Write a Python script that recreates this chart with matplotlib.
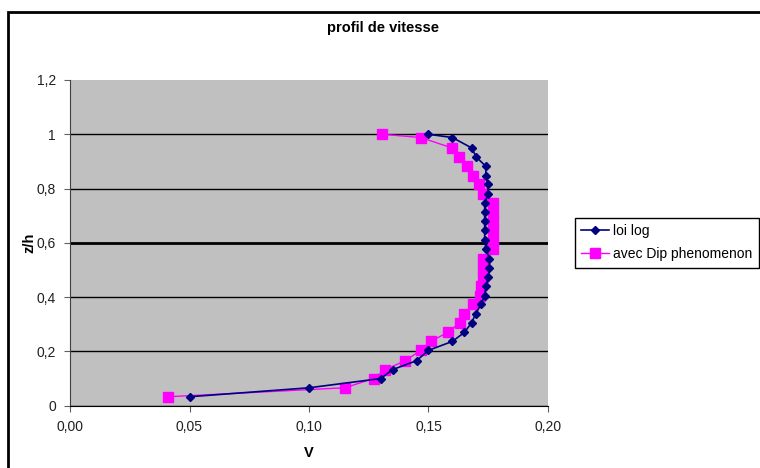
import matplotlib
matplotlib.use("Agg")
import matplotlib.pyplot as plt
from matplotlib.patches import Rectangle
from matplotlib.ticker import FuncFormatter

# relative height z/h of each measurement point
Z_H = [1.0, 0.988, 0.95, 0.916, 0.882, 0.848, 0.815, 0.781, 0.747, 0.714,
       0.68, 0.646, 0.612, 0.578, 0.542, 0.507, 0.473, 0.44, 0.405, 0.374,
       0.338, 0.305, 0.27, 0.237, 0.204, 0.166, 0.133, 0.1, 0.066, 0.033]

# velocity from the log law
V_LOG = [0.150, 0.160, 0.168, 0.170, 0.174, 0.174, 0.1748, 0.175, 0.1735, 0.1735,
         0.1735, 0.1735, 0.1735, 0.174, 0.1755, 0.1755, 0.175, 0.174, 0.1735, 0.172,
         0.1697, 0.168, 0.165, 0.160, 0.150, 0.145, 0.135, 0.130, 0.100, 0.050]

# velocity with the dip phenomenon
V_DIP = [0.1307, 0.1468, 0.1597, 0.1627, 0.166, 0.1685, 0.171, 0.173, 0.1769, 0.1769,
         0.1769, 0.1769, 0.1769, 0.1769, 0.173, 0.173, 0.173, 0.1718, 0.1716, 0.1688,
         0.165, 0.163, 0.158, 0.151, 0.1468, 0.1403, 0.132, 0.127, 0.115, 0.041]

X_TICKS = [0.0, 0.05, 0.10, 0.15, 0.20]
Y_TICKS = [0, 0.2, 0.4, 0.6, 0.8, 1.0, 1.2]

FONT = "Liberation Sans"


def comma_fmt(decimals):
    def f(val, pos):
        if decimals is None:
            s = ("%.1f" % val).rstrip("0").rstrip(".")
        else:
            s = "%.*f" % (decimals, val)
        return s.replace(".", ",")
    return FuncFormatter(f)


def main():
    plt.rcParams["font.family"] = [FONT, "DejaVu Sans"]
    fig = plt.figure(figsize=(7.6, 4.68), dpi=100)
    ax = fig.add_axes([70 / 760, 1 - 405.7 / 468, 478 / 760, 325.7 / 468])
    ax.set_facecolor("#C0C0C0")

    ax.plot(V_LOG, Z_H, color="#000080", lw=1.2, marker="D", markersize=4.5,
            label="loi log", zorder=3)
    ax.plot(V_DIP, Z_H, color="#FF00FF", lw=1.0, marker="s", markersize=6.5,
            label="avec Dip phenomenon", zorder=2)

    ax.set_xlim(0, 0.2)
    ax.set_ylim(0, 1.2)
    ax.set_xticks(X_TICKS)
    ax.set_yticks(Y_TICKS)
    ax.xaxis.set_major_formatter(comma_fmt(2))
    ax.yaxis.set_major_formatter(comma_fmt(None))
    ax.tick_params(axis="both", labelsize=10, length=4, color="#606060",
                   labelcolor="#202020", pad=6)

    # horizontal grid only, the 0,6 line drawn heavier
    ax.yaxis.grid(True, color="black", lw=1.0)
    for val, line in zip(Y_TICKS, ax.get_ygridlines()):
        if abs(val - 0.6) < 1e-9:
            line.set_linewidth(2.0)
        if abs(val - 1.2) < 1e-9:
            line.set_visible(False)
    ax.set_axisbelow(True)

    for side in ("top", "right"):
        ax.spines[side].set_visible(False)
    ax.spines["left"].set_color("#404040")
    ax.spines["bottom"].set_color("black")

    ax.set_xlabel("V", fontsize=10.5, fontweight="bold")
    ax.set_ylabel("z/h", fontsize=10.5, fontweight="bold")
    ax.xaxis.set_label_coords(0.5, -0.124)
    ax.yaxis.set_label_coords(-0.071, 0.5)
    fig.text(383 / 760, 1 - 28 / 468, "profil de vitesse", ha="center", va="center",
             fontsize=10.5, fontweight="bold")

    leg = fig.legend(loc="upper left", bbox_to_anchor=(575 / 760, 1 - 218 / 468),
                     fontsize=10, frameon=True, fancybox=False, framealpha=1,
                     edgecolor="black", borderpad=0.45, handlelength=2.0,
                     labelspacing=0.65, handletextpad=0.3, borderaxespad=0)
    leg.get_frame().set_linewidth(1.0)

    # outer chart border
    fig.patches.append(Rectangle((8 / 760, -0.1), 1.2, 1 - 12 / 468 + 0.1,
                                 transform=fig.transFigure, fill=False,
                                 edgecolor="black", lw=2, zorder=0))

    fig.savefig("out.png", dpi=100)


if __name__ == "__main__":
    main()
